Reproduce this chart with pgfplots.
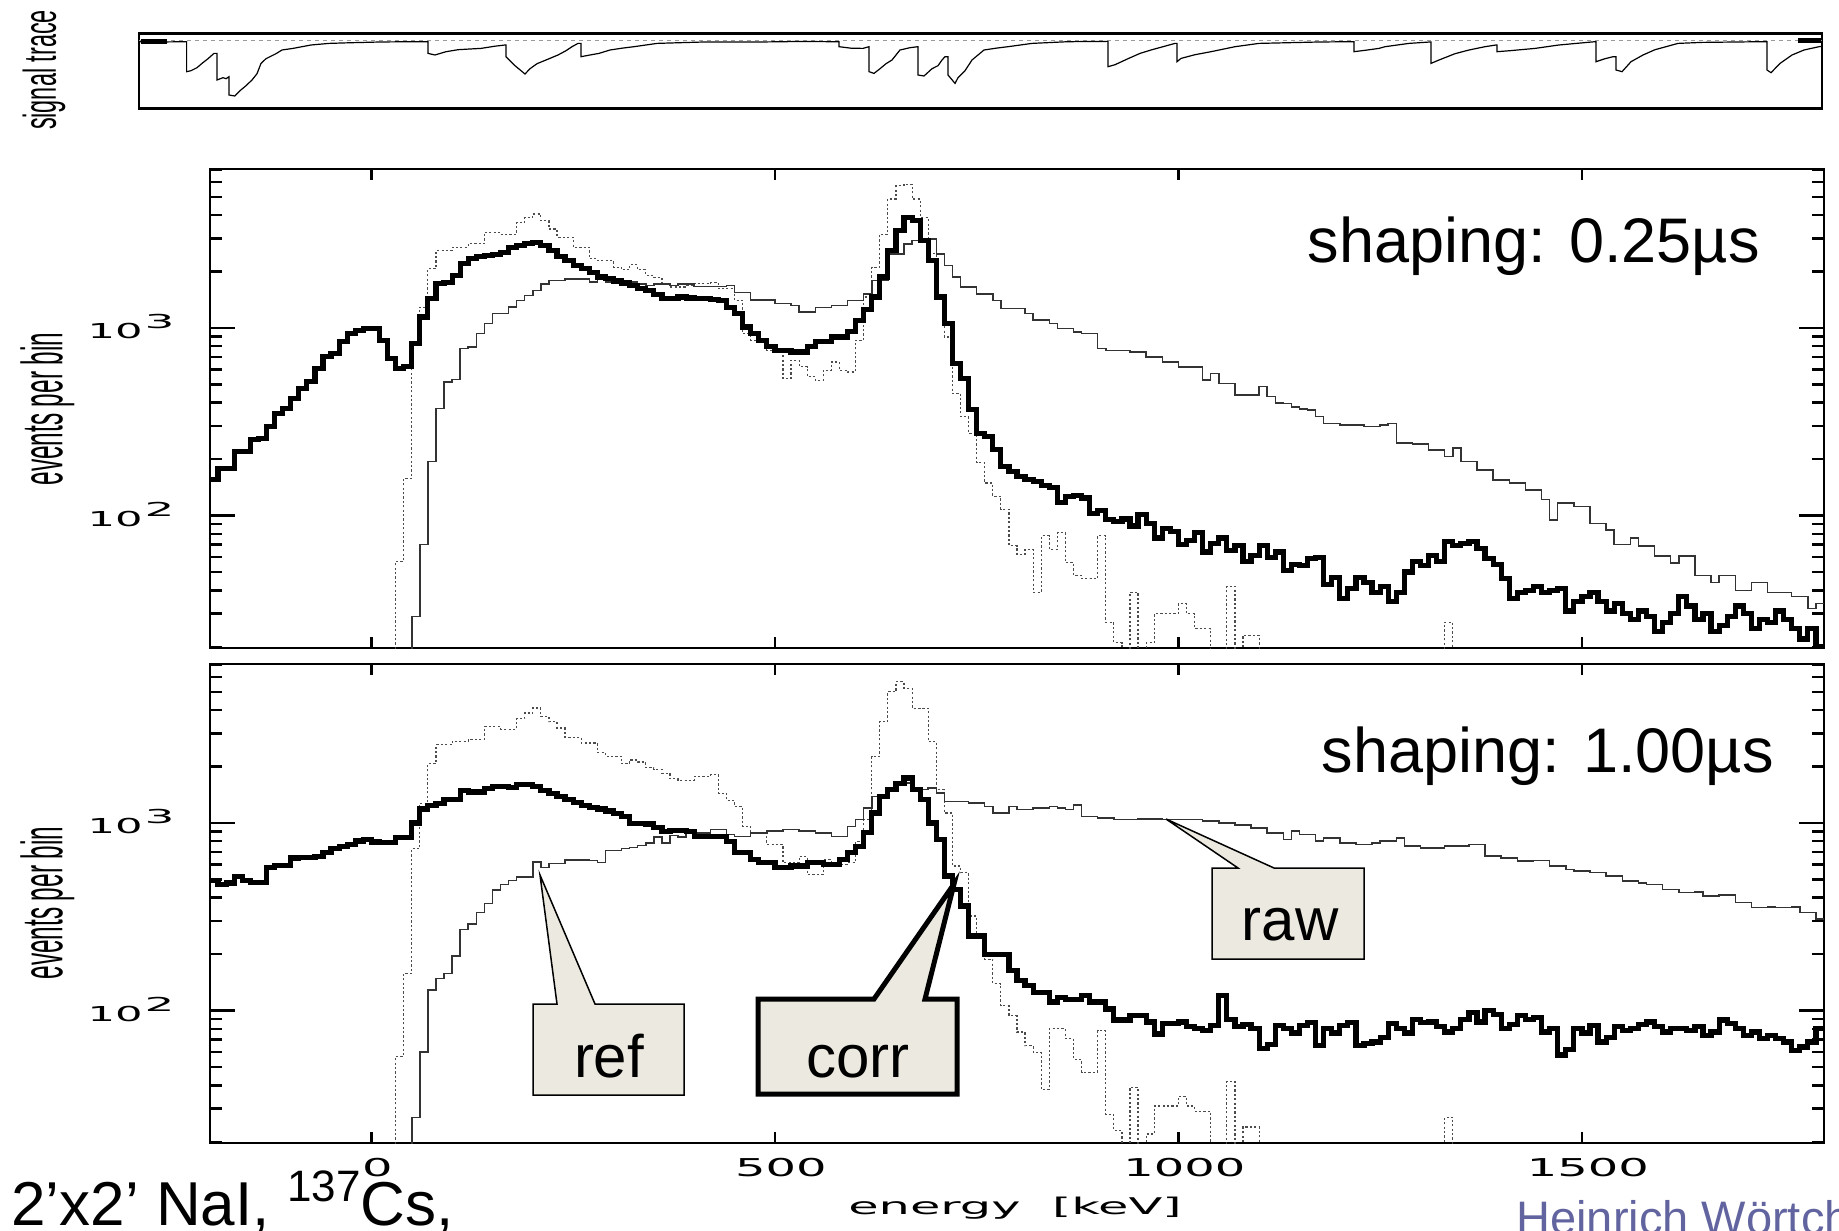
\documentclass[border=0pt]{standalone}
\usepackage{pgfplots}
\pgfplotsset{compat=1.18}
\usepackage{fontspec}
\setmainfont{Liberation Sans}
\newfontfamily\dejavu{DejaVu Sans}
\definecolor{calloutfill}{RGB}{236,234,224}
\definecolor{authorblue}{RGB}{98,100,160}
\newcommand{\ylab}[1]{{\dejavu\fontsize{10.3}{10.3}\selectfont\scalebox{2.1}[1]{10}\hspace{1pt}\raisebox{5pt}{\fontsize{9.6}{9.6}\selectfont\scalebox{2.45}[1]{#1}}}}
\newcommand{\xlab}[1]{{\dejavu\fontsize{12.3}{12.3}\selectfont\scalebox{1.95}[1]{#1}}}
\begin{document}
\begin{tikzpicture}
\path[use as bounding box] (0,0) rectangle (919.5pt,-615pt);

% ---------------- signal trace ----------------
\begin{axis}[at={(69.5pt,-54.15pt)}, anchor=south west, scale only axis,
  width=841.5pt, height=37.5pt, xmin=139, xmax=1822, ymin=-67.6, ymax=7.4,
  xtick=\empty, ytick=\empty, axis line style={line width=1.35pt}]
\addplot[gray!80, line width=0.5pt, dash pattern=on 2pt off 2pt] coordinates {(139,0) (1822,0)};
\addplot[black, line width=0.6pt] coordinates {
(140,-1) (160,-1.3) (186.6,-1) (186.6,-31) (191,-30) (197,-27) (202,-22.7) (208,-18) (214,-12.7) (217,-12.7)
(217,-39.3) (223,-37) (226,-38) (229,-36) (229,-54.3) (234.7,-55.3) (240,-50) (246,-45) (252,-39.3) (257,-33)
(261,-22.7) (266,-18) (270,-16) (276,-13) (282,-9.3) (293,-7.7) (311,-4.3) (329,-2.7) (352,-2) (380,-1.3) (411,-1) (428,-1)
(428,-12.7) (435,-14.3) (446,-11) (458,-9) (470,-8.3) (481,-7.7) (495,-5.5) (505,-4.3) (506,-4.3) (506,-16) (515,-25) (525,-33.3)
(530,-28) (537,-23) (546,-19.3) (558,-14.3) (566,-10) (572,-6) (578,-2.7) (581,-2.7) (581,-16) (590,-14.3) (599,-12.7)
(610,-9.3) (622,-7.5) (634,-6) (657,-2.7) (680,-2) (704,-1.3) (760,-1.3) (800,-0.8) (833,-1) (839,-1) (839,-6) (851,-7.5) (863,-7.7)
(869,-6) (869,-31) (874,-32.7) (880,-28) (886,-23) (892,-19.3) (900,-9.3) (910,-7) (918,-6) (918,-34.3) (924,-35.3)
(932,-28) (938,-25) (942,-19.3) (945,-16) (948,-16) (948,-34.3) (955,-42.7) (958,-37) (965,-30) (972,-19.3)
(984,-9.3) (996,-7.5) (1008,-6) (1032,-2.7) (1068,-1) (1107,-0.7) (1108,-0.7) (1108,-26) (1115,-24) (1128,-18)
(1140,-12.7) (1152,-9) (1163,-6) (1175,-2.7) (1177,-2.7) (1177,-21) (1181,-17.7) (1195,-14) (1211,-11) (1235,-6)
(1259,-2.7) (1319,-1.3) (1352,-1) (1354,-1) (1354,-11) (1366,-9.5) (1379,-7.7) (1385,-6) (1409,-2.7) (1430,-1.3)
(1431,-1.3) (1431,-22.7) (1439,-19.3) (1455,-13) (1469,-9.3) (1485,-6) (1496,-4.3) (1497,-4.3) (1497,-11)
(1510,-10) (1535,-7.7) (1559,-4.3) (1595,-1) (1596,-1) (1596,-21) (1605,-18) (1613,-16) (1616,-16) (1616,-29.3)
(1622,-31) (1631,-21) (1643,-14.3) (1655,-9) (1666,-6) (1678,-2.7) (1702,-1.7) (1762,-1) (1767,-1) (1767,-29.3) (1771,-32)
(1780,-22.7) (1792,-14.3) (1804,-9.3) (1819,-6) (1822,-5.5)};
\addplot[black, line width=2.2pt] coordinates {(141,-1) (167,-1)};
\addplot[black, line width=2.2pt] coordinates {(1798,0) (1821,0)};
\end{axis}

% ---------------- panel 1: shaping 0.25 us ----------------
\begin{axis}[at={(105pt,-324pt)}, anchor=south west,
    scale only axis, width=807pt, height=239.5pt,
    xmin=-200, xmax=1800, ymin=19.7, ymax=7030, ymode=log,
    axis line style={line width=1.35pt},
    clip mode=individual,
    xtick=\empty,
    ytick={100,1000},
    minor ytick={20,30,40,50,60,70,80,90,200,300,400,500,600,700,800,900,2000,3000,4000,5000,6000,7000},
    yticklabels={{\ylab{2}},{\ylab{3}}},
    yticklabel style={inner sep=0pt, xshift=-17.5pt, yshift=0.5pt},
    tick align=inside,
    major tick length=12.5pt, minor tick length=6pt,
    every tick/.append style={line width=1.25pt, black}]
\addplot[black!70, line width=0.6pt, const plot, dash pattern=on 1.1pt off 1.1pt] coordinates {
(20,5)(30,57)(40,158)(50,826)(60,1291)(70,2065)(80,2582)(90,2582)(100,2692)(110,2692)(120,2805)(130,2805)
(140,3236)(150,3236)(160,3162)(170,3162)(180,3656)(190,3882)(200,4046)(210,3733)(220,3365)(230,3041)(240,3041)
(250,2692)(260,2692)(270,2333)(280,2286)(290,2286)(300,2109)(310,2042)(320,2173)(330,2042)(340,1905)(350,1862)
(360,1718)(370,1652)(380,1652)(390,1679)(400,1718)(410,1718)(420,1738)(430,1618)(440,1618)(450,1403)(460,933)
(470,861)(480,861)(490,760)(500,760)(510,538)(520,673)(530,621)(540,550)(550,527)(560,596)(570,659)(580,596)
(590,583)(600,861)(610,1462)(620,2109)(630,3162)(640,4864)(650,5728)(660,5834)(670,4864)(680,3882)(690,2483)
(700,1462)(710,895)(720,448)(730,337)(740,275)(750,191)(760,149)(770,127)(780,108)(790,69)(800,62)(810,66)
(820,39)(830,78)(840,66)(850,81)(860,56)(870,48)(880,46)(890,46)(900,78)(910,27)(920,21)(930,5)(940,39)(950,5)
(960,21)(970,30)(980,30)(990,30)(1000,34)(1010,30)(1020,25)(1030,25)(1040,5)(1050,5)(1060,42)(1070,5)(1080,23)
(1090,23)(1100,5)(1330,27)(1340,5)(1800,5)};
\addplot[black!80, line width=0.75pt, const plot] coordinates {
(40,5)(50,29)(60,70)(70,194)(80,373)(90,516)(100,532)(110,776)(120,793)(130,933)(140,1054)(150,1191)(160,1191)
(170,1291)(180,1403)(190,1489)(200,1585)(210,1718)(220,1791)(230,1791)(240,1828)(250,1828)(260,1828)(270,1754)
(280,1828)(290,1754)(300,1754)(310,1718)(320,1754)(330,1718)(340,1687)(350,1718)(360,1718)(370,1687)(380,1718)
(390,1718)(400,1660)(410,1660)(420,1660)(430,1660)(440,1687)(450,1549)(460,1549)(470,1413)(480,1413)(490,1413)
(500,1349)(510,1349)(520,1318)(530,1216)(540,1216)(550,1288)(560,1288)(570,1318)(580,1318)(590,1403)(600,1403)
(610,1514)(620,1791)(630,1791)(640,2483)(650,2483)(660,2805)(670,2917)(680,2979)(690,2979)(700,2483)(710,2153)
(720,1866)(730,1652)(740,1652)(750,1514)(760,1514)(770,1403)(780,1268)(790,1268)(800,1268)(810,1191)(820,1099)
(830,1099)(840,1054)(850,991)(860,991)(870,953)(880,933)(890,933)(900,776)(910,760)(920,760)(930,760)(940,745)
(950,745)(960,701)(970,701)(980,659)(990,659)(1000,621)(1010,621)(1020,621)(1030,527)(1040,573)(1050,506)
(1060,506)(1070,439)(1080,439)(1090,439)(1100,486)(1110,431)(1120,398)(1130,396)(1140,380)(1150,370)(1160,366)
(1170,337)(1180,310)(1190,310)(1200,304)(1210,304)(1220,304)(1230,298)(1240,298)(1250,304)(1260,309)(1270,243)
(1280,243)(1290,240)(1300,240)(1310,224)(1320,224)(1330,207)(1340,229)(1350,194)(1360,194)(1370,175)(1380,175)
(1390,155)(1400,155)(1410,149)(1420,149)(1430,137)(1440,137)(1450,122)(1460,95)(1470,117)(1480,117)(1490,112)
(1500,112)(1510,91)(1520,91)(1530,84)(1540,70)(1550,70)(1560,76)(1570,69)(1580,69)(1590,61)(1600,61)(1610,56)
(1620,61)(1630,61)(1640,48)(1650,48)(1660,44)(1670,48)(1680,48)(1690,40)(1700,40)(1710,44)(1720,44)(1730,39)
(1740,39)(1750,39)(1760,37)(1770,37)(1780,32)(1790,34)(1800,34)};
\addplot[black, line width=2.6pt, const plot, line join=miter] coordinates {
(-200,155)(-190,179)(-180,179)(-170,220)(-160,220)(-150,254)(-140,258)(-130,298)(-120,351)(-110,373)(-100,422)
(-90,476)(-80,516)(-70,608)(-60,701)(-50,731)(-40,843)(-30,933)(-20,973)(-10,991)(0,991)(10,861)(20,687)(30,608)
(40,621)(50,826)(60,1143)(70,1432)(80,1718)(90,1754)(100,1905)(110,2198)(120,2333)(130,2404)(140,2432)(150,2460)
(160,2535)(170,2673)(180,2748)(190,2825)(200,2864)(210,2748)(220,2582)(230,2404)(240,2286)(250,2153)(260,2065)
(270,1982)(280,1866)(290,1828)(300,1778)(310,1734)(320,1687)(330,1618)(340,1585)(350,1510)(360,1432)(370,1432)
(380,1462)(390,1445)(400,1432)(410,1432)(420,1420)(430,1400)(440,1291)(450,1191)(460,1012)(470,933)(480,861)
(490,794)(500,760)(510,760)(520,745)(530,745)(540,794)(550,843)(560,843)(570,895)(580,895)(590,953)(600,1096)
(610,1259)(620,1462)(630,1866)(640,2582)(650,3304)(660,3882)(670,3733)(680,2917)(690,2286)(700,1462)(710,1054)
(720,647)(730,538)(740,366)(750,275)(760,264)(770,224)(780,183)(790,172)(800,162)(810,155)(820,152)(830,145)
(840,141)(850,117)(860,126)(870,128)(880,124)(890,103)(900,106)(910,95)(920,93)(930,96)(940,88)(950,101)(960,91)
(970,76)(980,85)(990,82)(1000,70)(1010,74)(1020,81)(1030,64)(1040,71)(1050,76)(1060,65)(1070,69)(1080,57)
(1090,61)(1100,69)(1110,60)(1120,64)(1130,51)(1140,55)(1150,54)(1160,59)(1170,60)(1180,43)(1190,47)(1200,36)
(1210,41)(1220,47)(1230,44)(1240,39)(1250,42)(1260,35)(1270,39)(1280,50)(1290,57)(1300,54)(1310,61)(1320,57)
(1330,73)(1340,69)(1350,71)(1360,73)(1370,67)(1380,59)(1390,55)(1400,46)(1410,36)(1420,39)(1430,40)(1440,42)
(1450,39)(1460,40)(1470,41)(1480,31)(1490,35)(1500,37)(1510,39)(1520,35)(1530,31)(1540,34)(1550,30)(1560,28)
(1570,31)(1580,29)(1590,24)(1600,27)(1610,30)(1620,37)(1630,33)(1640,28)(1650,30)(1660,24)(1670,26)(1680,29)
(1690,33)(1700,30)(1710,25)(1720,28)(1730,27)(1740,31)(1750,28)(1760,25)(1770,22)(1780,25)(1790,20)(1800,20)};
\pgfplotsinvokeforeach{0,500,1000,1500}{%
  \draw[line width=1.25pt] (axis cs:#1,19.7) -- ++(0pt,5.5pt);
  \draw[line width=1.25pt] (axis cs:#1,7030) -- ++(0pt,-5.5pt);}
\end{axis}

% ---------------- panel 2: shaping 1.00 us ----------------
\begin{axis}[at={(105pt,-571.5pt)}, anchor=south west,
    scale only axis, width=807pt, height=239.5pt,
    xmin=-200, xmax=1800, ymin=19.7, ymax=7030, ymode=log,
    axis line style={line width=1.35pt},
    clip mode=individual,
    xtick=\empty,
    ytick={100,1000},
    minor ytick={20,30,40,50,60,70,80,90,200,300,400,500,600,700,800,900,2000,3000,4000,5000,6000,7000},
    yticklabels={{\ylab{2}},{\ylab{3}}},
    yticklabel style={inner sep=0pt, xshift=-17.5pt, yshift=0.5pt},
    tick align=inside,
    major tick length=12.5pt, minor tick length=6pt,
    every tick/.append style={line width=1.25pt, black}]
\addplot[black!70, line width=0.6pt, const plot, dash pattern=on 1.1pt off 1.1pt] coordinates {
(20,5)(30,57)(40,158)(50,729)(60,1271)(70,2065)(80,2606)(90,2606)(100,2729)(110,2729)(120,2793)(130,2793)
(140,3251)(150,3251)(160,3162)(170,3162)(180,3597)(190,3855)(200,4093)(210,3681)(220,3467)(230,3206)(240,2858)
(250,2858)(260,2667)(270,2667)(280,2377)(290,2265)(300,2265)(310,2065)(320,2163)(330,2113)(340,1972)(350,1928)
(360,1841)(370,1718)(380,1679)(390,1679)(400,1770)(410,1770)(420,1807)(430,1442)(440,1318)(450,1225)(460,959)
(470,885)(480,885)(490,767)(500,767)(510,614)(520,614)(530,665)(540,532)(550,532)(560,638)(570,601)(580,601)
(590,614)(600,800)(610,1042)(620,2259)(630,3467)(640,5000)(650,5649)(660,5212)(670,4083)(680,4083)(690,2716)
(700,1503)(710,1130)(720,589)(730,543)(740,319)(750,250)(760,188)(770,139)(780,106)(790,94)(800,77)(810,65)
(820,60)(830,38)(840,80)(850,80)(860,71)(870,55)(880,47)(890,47)(900,78)(910,28)(920,23)(930,5)(940,39)(950,5)
(960,22)(970,31)(980,31)(990,31)(1000,35)(1010,31)(1020,29)(1030,29)(1040,5)(1050,5)(1060,42)(1070,5)(1080,24)
(1090,24)(1100,5)(1330,27)(1340,5)(1800,5)};
\addplot[black!80, line width=0.75pt, const plot] coordinates {
(40,5)(50,27)(60,60)(70,129)(80,148)(90,158)(100,195)(110,270)(120,290)(130,333)(140,373)(150,440)(160,471)
(170,493)(180,516)(190,516)(200,621)(210,579)(220,607)(230,607)(240,635)(250,635)(260,635)(270,631)(280,617)
(290,713)(300,713)(310,729)(320,741)(330,759)(340,783)(350,839)(360,783)(370,859)(380,839)(390,899)(400,885)
(410,885)(420,923)(430,923)(440,867)(450,849)(460,849)(470,885)(480,885)(490,904)(500,904)(510,923)(520,923)
(530,904)(540,904)(550,885)(560,885)(570,849)(580,849)(590,959)(600,1042)(610,1202)(620,1387)(630,1387)(640,1535)
(650,1629)(660,1629)(670,1472)(680,1503)(690,1535)(700,1442)(710,1303)(720,1303)(730,1303)(740,1276)(750,1276)
(760,1225)(770,1130)(780,1130)(790,1225)(800,1178)(810,1178)(820,1202)(830,1202)(840,1225)(850,1202)(860,1178)
(870,1250)(880,1084)(890,1084)(900,1064)(910,1064)(920,1042)(930,1042)(940,1042)(950,1047)(960,1047)(970,1047)
(980,1042)(990,1042)(1000,1042)(1010,1042)(1020,1042)(1030,1021)(1040,1021)(1050,1000)(1060,1000)(1070,977)
(1080,977)(1090,940)(1100,940)(1110,885)(1120,885)(1130,817)(1140,904)(1150,867)(1160,867)(1170,800)(1180,832)
(1190,832)(1200,783)(1210,783)(1220,767)(1230,767)(1240,783)(1250,800)(1260,800)(1270,832)(1280,752)(1290,752)
(1300,736)(1310,736)(1320,736)(1330,752)(1340,752)(1350,752)(1360,767)(1370,767)(1380,665)(1390,665)(1400,652)
(1410,652)(1420,625)(1430,625)(1440,631)(1450,631)(1460,589)(1470,589)(1480,565)(1490,555)(1500,555)(1510,543)
(1520,543)(1530,521)(1540,521)(1550,490)(1560,490)(1570,479)(1580,471)(1590,471)(1600,443)(1610,443)(1620,425)
(1630,425)(1640,429)(1650,408)(1660,408)(1670,412)(1680,412)(1690,376)(1700,376)(1710,354)(1720,354)(1730,357)
(1740,354)(1750,354)(1760,357)(1770,333)(1780,333)(1790,307)(1800,307)};
\addplot[black, line width=2.6pt, const plot, line join=miter] coordinates {
(-200,493)(-190,471)(-180,479)(-170,516)(-160,493)(-150,482)(-140,482)(-130,579)(-120,593)(-110,593)(-100,650)
(-90,656)(-80,656)(-70,665)(-60,697)(-50,729)(-40,746)(-30,764)(-20,802)(-10,820)(0,791)(10,783)(20,783)(30,839)
(40,839)(50,1000)(60,1186)(70,1242)(80,1271)(90,1330)(100,1330)(110,1496)(120,1462)(130,1462)(140,1531)(150,1567)
(160,1567)(170,1549)(180,1603)(190,1603)(200,1567)(210,1496)(220,1429)(230,1377)(240,1330)(250,1288)(260,1242)
(270,1213)(280,1186)(290,1159)(300,1122)(310,1081)(320,995)(330,995)(340,986)(350,942)(360,899)(370,912)(380,912)
(390,900)(400,849)(410,849)(420,849)(430,849)(440,800)(450,693)(460,693)(470,638)(480,614)(490,614)(500,577)
(510,577)(520,589)(530,589)(540,614)(550,614)(560,603)(570,603)(580,638)(590,693)(600,752)(610,885)(620,1130)
(630,1387)(640,1503)(650,1629)(660,1734)(670,1503)(680,1330)(690,1000)(700,817)(710,521)(720,443)(730,361)
(740,250)(750,250)(760,200)(770,200)(780,200)(790,163)(800,144)(810,136)(820,125)(830,125)(840,111)(850,118)
(860,115)(870,115)(880,120)(890,111)(900,111)(910,102)(920,89)(930,89)(940,94)(950,94)(960,87)(970,75)(980,85)
(990,85)(1000,87)(1010,82)(1020,80)(1030,78)(1040,83)(1050,120)(1060,90)(1070,82)(1080,84)(1090,80)(1100,63)
(1110,66)(1120,83)(1130,80)(1140,76)(1150,83)(1160,86)(1170,65)(1180,80)(1190,76)(1200,83)(1210,86)(1220,65)
(1230,67)(1240,68)(1250,72)(1260,85)(1270,80)(1280,76)(1290,90)(1300,86)(1310,87)(1320,82)(1330,77)(1340,80)
(1350,90)(1360,98)(1370,87)(1380,100)(1390,95)(1400,80)(1410,84)(1420,94)(1430,90)(1440,92)(1450,77)(1460,80)
(1470,58)(1480,62)(1490,80)(1500,76)(1510,83)(1520,68)(1530,72)(1540,82)(1550,78)(1560,80)(1570,84)(1580,87)
(1590,82)(1600,77)(1610,80)(1620,80)(1630,78)(1640,82)(1650,74)(1660,77)(1670,89)(1680,85)(1690,80)(1700,74)
(1710,77)(1720,71)(1730,74)(1740,71)(1750,68)(1760,61)(1770,64)(1780,68)(1790,80)(1800,80)};
\pgfplotsinvokeforeach{0,500,1000,1500}{%
  \draw[line width=1.25pt] (axis cs:#1,19.7) -- ++(0pt,5.5pt);
  \draw[line width=1.25pt] (axis cs:#1,7030) -- ++(0pt,-5.5pt);
  \node[anchor=north, inner sep=0pt, xshift=3pt, yshift=-7.5pt] at (axis cs:#1,19.7) {\xlab{#1}};}
\end{axis}

% ---------------- annotations (1 unit = 1 px of the reference) ----------------
\begin{scope}[x=0.5pt, y=-0.5pt]
\node[rotate=90, inner sep=0pt] at (44,70) {\fontsize{23}{23}\selectfont\scalebox{0.51}[1]{signal trace}};
\node[rotate=90, inner sep=0pt] at (47.5,409) {\fontsize{29}{29}\selectfont\scalebox{0.42}[1]{events per bin}};
\node[rotate=90, inner sep=0pt] at (47.5,903) {\fontsize{29}{29}\selectfont\scalebox{0.42}[1]{events per bin}};
\node[anchor=base east, inner sep=0pt] at (1760,263) {\fontsize{31.5}{31.5}\selectfont shaping: 0.25µs};
\node[anchor=base east, inner sep=0pt] at (1774,772) {\fontsize{31.5}{31.5}\selectfont shaping: 1.00µs};
\node[inner sep=0pt] at (1015,1208) {{\dejavu\fontsize{11.5}{11.5}\selectfont\scalebox{2.15}[1]{energy\ \ [keV]}}};
\node[anchor=base west, inner sep=0pt] at (11,1225) {\fontsize{31}{31}\selectfont 2’x2’ NaI, \raisebox{12pt}{\fontsize{22}{22}\selectfont 137}Cs,};
\node[anchor=base west, inner sep=0pt, text=authorblue] at (1516,1234) {\fontsize{23.5}{23.5}\selectfont Heinrich Wörtche};
\filldraw[fill=calloutfill, draw=black, line width=0.75pt, line join=miter]
  (533,1004) -- (557,1004) -- (540,875) -- (595,1004) -- (684,1004) -- (684,1095) -- (533,1095) -- cycle;
\node[anchor=base, inner sep=0pt] at (609,1077) {\fontsize{30}{30}\selectfont ref};
\filldraw[fill=calloutfill, draw=black, line width=2.5pt, line join=miter]
  (758,999) -- (874,999) -- (954,884) -- (925,999) -- (957,999) -- (957,1094) -- (758,1094) -- cycle;
\node[anchor=base, inner sep=0pt] at (858,1077) {\fontsize{30}{30}\selectfont corr};
\filldraw[fill=calloutfill, draw=black, line width=0.75pt, line join=miter]
  (1212,868) -- (1238,868) -- (1166,819) -- (1274,868) -- (1364,868) -- (1364,959) -- (1212,959) -- cycle;
\node[anchor=base, inner sep=0pt] at (1290,940) {\fontsize{30}{30}\selectfont raw};
\end{scope}
\end{tikzpicture}
\end{document}
